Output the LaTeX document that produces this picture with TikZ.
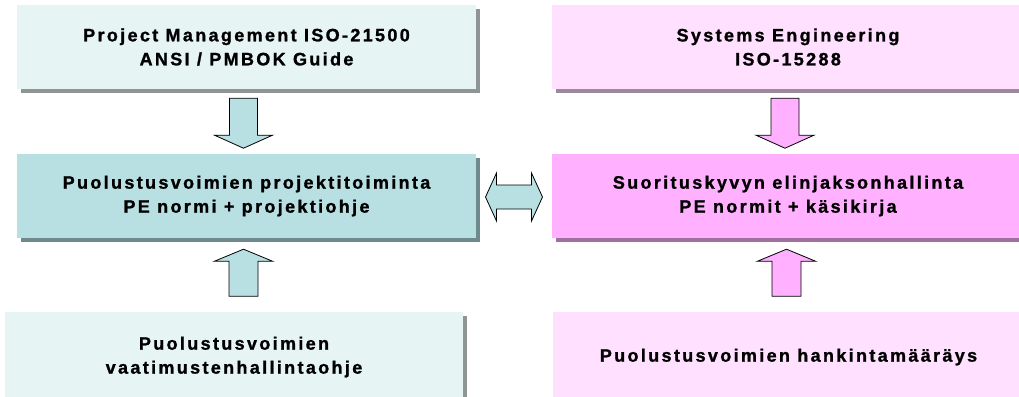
\documentclass[tikz,border=0pt]{standalone}
\usepackage{fontspec}
\newfontfamily\boxfont{Liberation Sans}[LetterSpace=13, BoldFeatures={FakeBold=1.2}]
\usetikzlibrary{calc}

\definecolor{paleteal}{HTML}{E6F4F4}
\definecolor{midteal}{HTML}{B8DFE1}
\definecolor{palepink}{HTML}{FFE1FF}
\definecolor{midpink}{HTML}{FFB0FF}
\definecolor{palegray}{HTML}{8F9494}
\definecolor{tealgray}{HTML}{6F8A8C}
\definecolor{pinkgray}{HTML}{9C8A9C}
\definecolor{pinkshade}{HTML}{A070A0}

\tikzset{
  box/.style={rectangle, inner sep=0pt, align=center, text=black,
    font=\boxfont\bfseries\fontsize{18}{24}\selectfont},
  shadowed/.style={preaction={fill=#1, transform canvas={xshift=3.5pt, yshift=-4pt}}},
  blockarrow/.style={draw=black, line width=0.8pt, line join=miter},
  blockdown/.pic={\path[pic actions] (-14,0) -- (14,0) -- (14,37) -- (29,37) -- (0,50)
      -- (-29,37) -- (-14,37) -- cycle;},
  blockup/.pic={\path[pic actions] (-14.5,0) -- (14.5,0) -- (14.5,-35) -- (29,-35) -- (0,-47)
      -- (-29,-35) -- (-14.5,-35) -- cycle;},
  blockboth/.pic={\path[pic actions] (-28.5,0) -- (-17.5,-24) -- (-17.5,-12) -- (17.5,-12)
      -- (17.5,-24) -- (28.5,0) -- (17.5,24) -- (17.5,12) -- (-17.5,12) -- (-17.5,24) -- cycle;},
}

\begin{document}
\begin{tikzpicture}[x=1pt, y=-1pt]
  \useasboundingbox (0,0) rectangle (1019,396);
  \clip (0,0) rectangle (1019,396);

  % standards (top row)
  \node[box, fill=paleteal, shadowed=palegray, minimum width=459pt, minimum height=84pt]
    (tl) at (246.5,47) {Project Management ISO-21500\\ANSI / PMBOK Guide};
  \node[box, fill=palepink, shadowed=pinkgray, minimum width=472pt, minimum height=84pt]
    (tr) at (788,47) {Systems Engineering\\ISO-15288};

  % defence force processes (middle row)
  \node[box, fill=midteal, shadowed=tealgray, minimum width=459pt, minimum height=84pt]
    (ml) at (246.5,196) {Puolustusvoimien projektitoiminta\\PE normi + projektiohje};
  \node[box, fill=midpink, shadowed=pinkshade, minimum width=472pt, minimum height=84pt]
    (mr) at (788,196) {Suorituskyvyn elinjaksonhallinta\\PE normit + käsikirja};

  % regulations (bottom row)
  \node[box, fill=paleteal, shadowed=palegray, minimum width=458pt, minimum height=90pt]
    (bl) at (234,357) {Puolustusvoimien\\vaatimustenhallintaohje};
  \node[box, fill=palepink, shadowed=pinkgray, minimum width=471pt, minimum height=90pt]
    (br) at (788.5,357) {Puolustusvoimien hankintamääräys};

  % block arrows between the rows
  \pic[blockarrow, fill=midteal] at ($(tl.south)+(-3,9)$) {blockdown};
  \pic[blockarrow, fill=midpink] at ($(tr.south)+(-3,9)$) {blockdown};
  \pic[blockarrow, fill=midteal] at ($(ml.south)+(-3,58)$) {blockup};
  \pic[blockarrow, fill=midpink] at ($(mr.south)+(-1.5,58)$) {blockup};
  \pic[blockarrow, fill=midteal] at ($(ml.east)!0.5!(mr.west)+(0,1)$) {blockboth};
\end{tikzpicture}
\end{document}
